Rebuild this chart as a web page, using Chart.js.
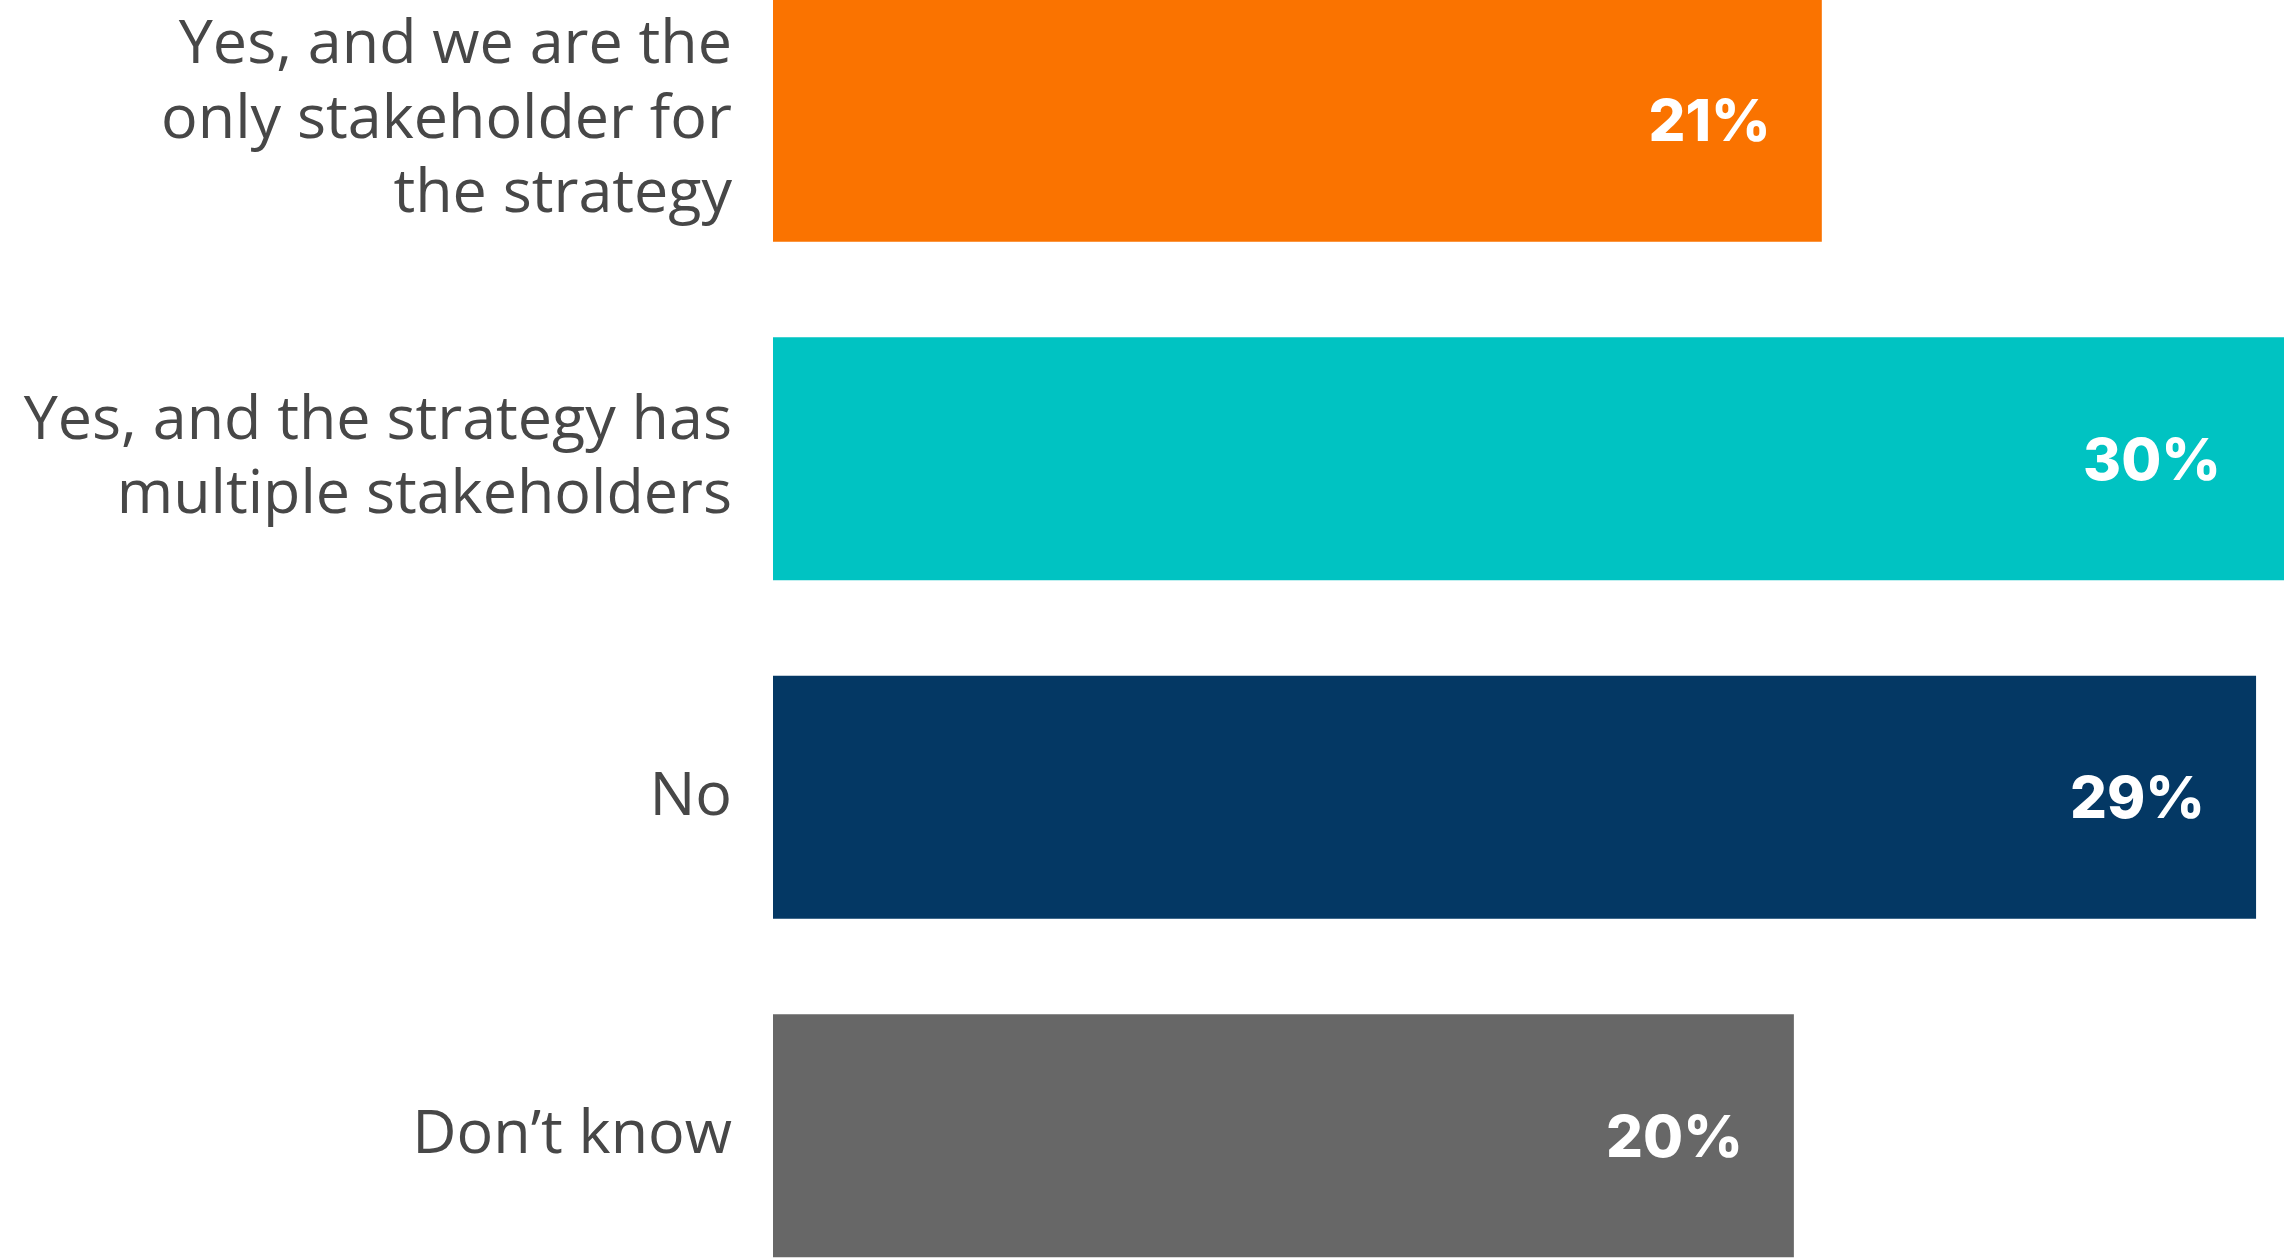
<!DOCTYPE html>
<html>
<head>
<meta charset="utf-8">
<script src="https://cdn.jsdelivr.net/npm/chart.js@4/dist/chart.umd.min.js"></script>
<style>
    html, body { margin: 0; padding: 0; background: #ffffff; }
    #wrap { position: relative; width: 2284px; height: 1259px; overflow: hidden; }
    #chart { position: absolute; left: 0; top: -49px; }
</style>
</head>
<body>
<div id="wrap"><canvas id="chart" width="2284" height="1354"></canvas></div>
<script>
/* Horizontal bar chart: strategy ownership */
const categories = [
    ['Yes, and we are the', 'only stakeholder for', 'the strategy'],
    ['Yes, and the strategy has', 'multiple stakeholders'],
    'No',
    'Don\u2019t know'
];
const shares = [20.65, 29.9, 29.2, 20.1];
const barColors = ['#fa7300', '#00c3c2', '#043864', '#676767'];
const axisMax = 29.75;

// white value text drawn inside the bar end
const valueLabels = {
    id: 'valueLabels',
    afterDatasetsDraw(chart) {
        const { ctx, chartArea } = chart;
        const meta = chart.getDatasetMeta(0);
        ctx.save();
        ctx.fillStyle = '#ffffff';
        ctx.font = '800 58px Inter, "DejaVu Sans", sans-serif';
        ctx.textAlign = 'right';
        ctx.textBaseline = 'alphabetic';
        meta.data.forEach((bar, i) => {
            const end = Math.min(bar.x, chartArea.right - 12);
            ctx.fillText(Math.round(shares[i]) + '%', end - 51, bar.y + 21);
        });
        ctx.restore();
    }
};

new Chart(document.getElementById('chart'), {
    type: 'bar',
    data: {
        labels: categories,
        datasets: [{
            data: shares,
            backgroundColor: barColors,
            borderWidth: 0,
            categoryPercentage: 1,
            barPercentage: 0.718,
        }]
    },
    options: {
        indexAxis: 'y',
        responsive: false,
        animation: false,
        layout: { padding: 0 },
        plugins: {
            legend: { display: false },
            tooltip: { enabled: false }
        },
        scales: {
            x: {
                display: false,
                min: 0,
                max: axisMax,
            },
            y: {
                grid: { display: false, drawTicks: false },
                border: { display: false },
                ticks: {
                    color: '#474747',
                    padding: 41,
                    font: { family: '"Open Sans", sans-serif', size: 61, lineHeight: 1.22 },
                },
                afterFit(scale) {
                    // fixed label column, and no extra room for tall multi-line labels
                    scale.width = 773;
                    scale.paddingTop = 0;
                    scale.paddingBottom = 0;
                }
            }
        }
    },
    plugins: [valueLabels]
});
</script>
</body>
</html>
